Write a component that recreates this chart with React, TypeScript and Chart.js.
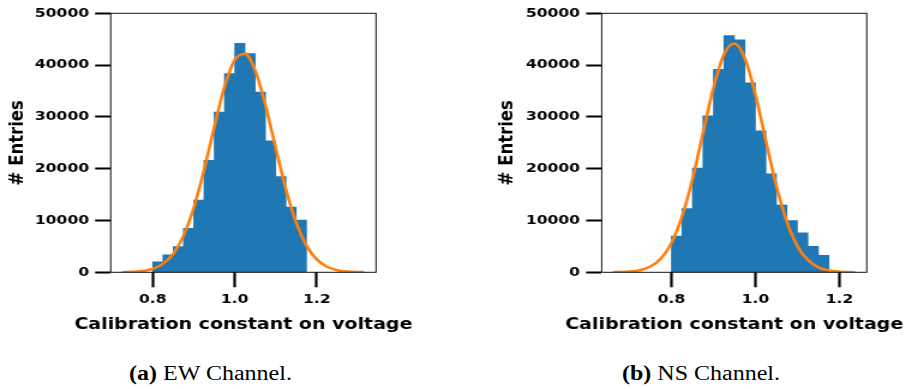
import React, { useEffect, useRef } from "react";
import { Chart, registerables } from "chart.js";

Chart.register(...registerables);

// ---------- data ----------
const binCenters = [0.8125, 0.8375, 0.8625, 0.8875, 0.9125, 0.9375, 0.9625, 0.9875, 1.0125, 1.0375, 1.0625, 1.0875, 1.1125, 1.1375, 1.1625];
const ewCounts = [2000, 3350, 4950, 8500, 13950, 21600, 30950, 38350, 44200, 42200, 34800, 25400, 18500, 12600, 10100];
const nsCounts = [7000, 12300, 20100, 30200, 39200, 45700, 44900, 36600, 27300, 19000, 13000, 10000, 7600, 5000, 3300];

const ewFitX = [0.725, 0.75, 0.775, 0.8, 0.825, 0.85, 0.875, 0.9, 0.925, 0.95, 0.975, 1.0, 1.025, 1.05, 1.075, 1.1, 1.125, 1.15, 1.175, 1.2, 1.225, 1.25, 1.275, 1.3, 1.316];
const ewFitY = [24, 80, 244, 666, 1626, 3571, 7026, 12415, 19683, 28015, 35773, 40997, 42168, 38924, 32241, 23967, 15989, 9573, 5144, 2482, 1073, 418, 146, 46, 20];

const nsFitX = [0.66, 0.675, 0.7, 0.725, 0.75, 0.775, 0.8, 0.825, 0.85, 0.875, 0.9, 0.925, 0.95, 0.975, 1.0, 1.025, 1.05, 1.075, 1.1, 1.125, 1.15, 1.175, 1.2, 1.225, 1.238];
const nsFitY = [18, 41, 138, 416, 1117, 2667, 5662, 10693, 17958, 26809, 35606, 42061, 44184, 41278, 34294, 25340, 16655, 9733, 5056, 2337, 961, 351, 114, 33, 17];

const xTicks = [0.8, 1.0, 1.2];
const yMin = 0;
const yMax = 50000;
const yStep = 10000;

const xTitle = "Calibration constant on voltage";
const yTitle = "# Entries";

// ---------- layout (unstretched units) ----------
const S = 1.2; // horizontal stretch of the figure
const H = 340;
const FONT = "'DejaVu Sans', sans-serif";
const X_TITLE_WIDTH = 338; // rendered width on the page, px
const X_TITLE_BASELINE = 329;

const boxPlugin = {
  id: "axesBox",
  afterDatasetsDraw(chart: any) {
    const { ctx, chartArea: a } = chart;
    ctx.save();
    ctx.strokeStyle = "#111";
    ctx.lineWidth = 1;
    ctx.strokeRect(a.left, a.top, a.right - a.left, a.bottom - a.top);
    ctx.restore();
  },
};

const xTitlePlugin = {
  id: "xTitleWide",
  afterDraw(chart: any) {
    const { ctx, chartArea: a } = chart;
    ctx.save();
    ctx.font = `bold 16px ${FONT}`;
    const w = ctx.measureText(xTitle).width;
    const k = X_TITLE_WIDTH / S / w;
    ctx.translate((a.left + a.right) / 2, X_TITLE_BASELINE);
    ctx.scale(k, 1);
    ctx.textAlign = "center";
    ctx.textBaseline = "alphabetic";
    ctx.fillStyle = "#000";
    ctx.fillText(xTitle, 0, 0);
    ctx.restore();
  },
};

type PanelProps = {
  left: number;
  w: number;
  chartLeft: number;
  chartRight: number;
  padLeft: number;
  xMin: number;
  xMax: number;
  counts: number[];
  fitX: number[];
  fitY: number[];
};

function Panel(p: PanelProps) {
  const ref = useRef<HTMLCanvasElement>(null);
  useEffect(() => {
    const chartTop = 13.3;
    const chartBottom = 272.3;
    const chart = new Chart(ref.current as HTMLCanvasElement, {
      type: "bar",
      data: {
        datasets: [
          {
            type: "line",
            data: p.fitX.map((x, i) => ({ x, y: p.fitY[i] })),
            borderColor: "#ff7f0e",
            borderWidth: 2.6,
            pointRadius: 0,
            fill: false,
            cubicInterpolationMode: "monotone",
            order: 0,
          } as any,
          {
            type: "bar",
            data: binCenters.map((x, i) => ({ x, y: p.counts[i] })),
            backgroundColor: "#1f77b4",
            borderWidth: 0,
            barPercentage: 1.0,
            categoryPercentage: 1.0,
            order: 1,
          } as any,
        ],
      },
      options: {
        responsive: false,
        animation: false,
        devicePixelRatio: 1,
        layout: {
          padding: { left: p.padLeft, right: p.w - p.chartRight, top: chartTop, bottom: 0 },
        },
        plugins: { legend: { display: false }, tooltip: { enabled: false } },
        scales: {
          x: {
            type: "linear",
            min: p.xMin,
            max: p.xMax,
            offset: false,
            grid: {
              offset: false,
              drawOnChartArea: false,
              drawTicks: true,
              tickLength: 15,
              tickWidth: 2.2,
              tickColor: "#000",
              color: "#000",
            },
            border: { display: false },
            afterBuildTicks: (scale: any) => {
              scale.ticks = xTicks.map((v) => ({ value: v }));
            },
            afterFit: (scale: any) => {
              scale.height = H - chartBottom;
            },
            ticks: {
              autoSkip: false,
              maxRotation: 0,
              minRotation: 0,
              padding: 5,
              color: "#000",
              font: { family: FONT, size: 13, weight: "bold" },
              callback: (v: any) => Number(v).toFixed(1),
            },
            title: { display: false, text: xTitle },
          },
          y: {
            type: "linear",
            min: yMin,
            max: yMax,
            grid: {
              drawOnChartArea: false,
              drawTicks: true,
              tickLength: 13,
              tickWidth: 2,
              tickColor: "#000",
              color: "#000",
            },
            border: { display: false },
            afterFit: (scale: any) => {
              scale.width = p.chartLeft - p.padLeft;
            },
            ticks: {
              stepSize: yStep,
              padding: 5,
              color: "#000",
              font: { family: FONT, size: 13, weight: "bold" },
              callback: (v: any) => String(v),
            },
            title: {
              display: true,
              text: yTitle,
              color: "#000",
              font: { family: FONT, size: 16.5, weight: "bold" },
              padding: { top: 4.5, bottom: 0 },
            },
          },
        },
      } as any,
      plugins: [boxPlugin, xTitlePlugin],
    });
    return () => chart.destroy();
  }, []);
  return (
    <canvas
      ref={ref}
      width={p.w}
      height={H}
      style={{ position: "absolute", left: p.left, top: 0, width: p.w, height: H, display: "block" }}
    />
  );
}

function Caption(props: { center: number; label: string; text: string }) {
  return (
    <div
      style={{
        position: "absolute",
        left: props.center - 120,
        width: 240,
        top: 363,
        textAlign: "center",
        fontFamily: "'Liberation Serif', 'Times New Roman', serif",
        fontSize: 20,
        lineHeight: "20px",
        color: "#000",
        whiteSpace: "nowrap",
      }}
    >
      <b>{props.label}</b> {props.text}
    </div>
  );
}

export default function App() {
  return (
    <div
      style={{
        position: "absolute",
        left: 0,
        top: 0,
        width: 904 / S,
        height: 389,
        transform: `scaleX(${S})`,
        transformOrigin: "0 0",
        background: "#fff",
      }}
    >
      <Panel
        left={0}
        w={376}
        chartLeft={92.25}
        chartRight={313.33}
        padLeft={0}
        xMin={0.6976}
        xMax={1.3446}
        counts={ewCounts}
        fitX={ewFitX}
        fitY={ewFitY}
      />
      <Panel
        left={376}
        w={377}
        chartLeft={125.4}
        chartRight={346.25}
        padLeft={32.4}
        xMin={0.634}
        xMax={1.265}
        counts={nsCounts}
        fitX={nsFitX}
        fitY={nsFitY}
      />
      <Caption center={175.4} label="(a)" text="EW Channel." />
      <Caption center={584.2} label="(b)" text="NS Channel." />
    </div>
  );
}
